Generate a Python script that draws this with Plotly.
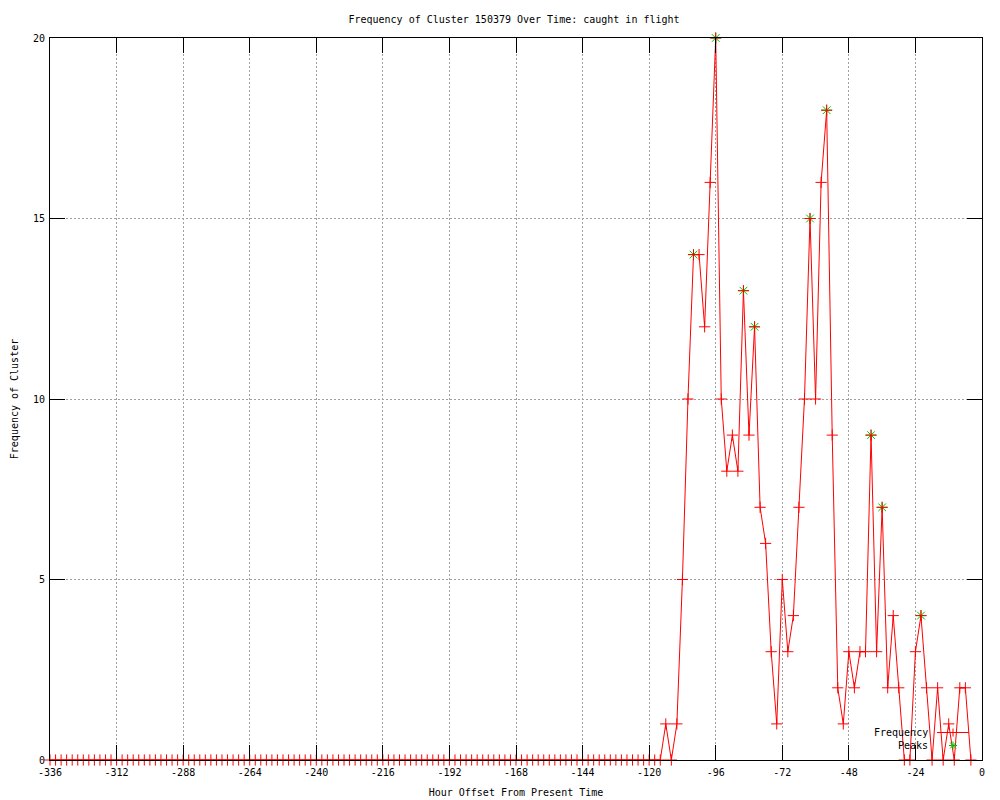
import plotly.graph_objects as go

# ---- data ----
HOURS = list(range(-336, -2, 2))  # sampled every 2 hours, -336 .. -4
FREQUENCY = [
    0, 0, 0, 0, 0, 0, 0, 0, 0, 0, 0, 0, 0, 0, 0, 0, 0, 0, 0, 0,
    0, 0, 0, 0, 0, 0, 0, 0, 0, 0, 0, 0, 0, 0, 0, 0, 0, 0, 0, 0,
    0, 0, 0, 0, 0, 0, 0, 0, 0, 0, 0, 0, 0, 0, 0, 0, 0, 0, 0, 0,
    0, 0, 0, 0, 0, 0, 0, 0, 0, 0, 0, 0, 0, 0, 0, 0, 0, 0, 0, 0,
    0, 0, 0, 0, 0, 0, 0, 0, 0, 0, 0, 0, 0, 0, 0, 0, 0, 0, 0, 0,
    0, 0, 0, 0, 0, 0, 0, 0, 0, 0, 0,
    1, 0, 1, 5, 10, 14, 14, 12, 16, 20,
    10, 8, 9, 8, 13, 9, 12, 7, 6, 3,
    1, 5, 3, 4, 7, 10, 15, 10, 16, 18,
    9, 2, 1, 3, 2, 3, 3, 9, 3, 7,
    2, 4, 2, 0, 0, 3, 4, 2, 0, 2,
    0, 1, 0, 2, 2, 0,
]
PEAK_HOURS = [-104, -96, -86, -82, -62, -56, -40, -36, -22]
PEAK_VALUES = [14, 20, 13, 12, 15, 18, 9, 7, 4]

X_TICKS = [-336, -312, -288, -264, -240, -216, -192, -168, -144, -120, -96, -72, -48, -24, 0]
X_LABELS = ["-336", "-312", "-288", "-264", "-240", "-216", "-192", "-168", "-144",
            "-120", "-96", "-72", "-48", "-24", "0"]
Y_TICKS = [0, 5, 10, 15, 20]
Y_LABELS = ["0", "5", "10", "15", "20"]

TITLE = "Frequency of Cluster 150379 Over Time: caught in flight"
X_TITLE = "Hour Offset From Present Time"
Y_TITLE = "Frequency of Cluster"

RED = "#ff0000"
GREEN = "#00c000"
FONT = "DejaVu Sans Mono"

fig = go.Figure()

fig.add_trace(go.Scatter(
    x=PEAK_HOURS, y=PEAK_VALUES, mode="markers", name="Peaks",
    marker=dict(symbol="asterisk-open", size=9, color=GREEN,
                line=dict(color=GREEN, width=1)),
    cliponaxis=False, hoverinfo="x+y",
))
fig.add_trace(go.Scatter(
    x=HOURS, y=FREQUENCY, mode="lines+markers", name="Frequency",
    line=dict(color=RED, width=1),
    marker=dict(symbol="cross-thin-open", size=8, color=RED,
                line=dict(color=RED, width=1)),
    cliponaxis=False, hoverinfo="x+y",
))

axis_common = dict(
    ticks="inside", ticklen=15, tickwidth=1, tickcolor="black",
    showline=True, linecolor="black", linewidth=1, mirror="ticks",
    showgrid=True, gridcolor="#a0a0a0", gridwidth=1, griddash="2px,2px",
    zeroline=False, automargin=False,
    tickfont=dict(family=FONT, size=10, color="black"),
)

fig.update_xaxes(range=[-336, 0], tickmode="array", tickvals=X_TICKS, ticktext=X_LABELS,
                 ticklabelstandoff=3,
                 title=dict(text=X_TITLE, standoff=11, font=dict(family=FONT, size=10, color="black")),
                 **axis_common)
fig.update_yaxes(range=[0, 20], tickmode="array", tickvals=Y_TICKS, ticktext=Y_LABELS,
                 ticklabelstandoff=2,
                 title=dict(text=Y_TITLE, standoff=12, font=dict(family=FONT, size=10, color="black")),
                 **axis_common)

# The page body has an 8px margin, so the figure is 8px smaller and all targets shift by 8.
OFF = 8
W, H = 1000 - OFF, 800 - OFF
L, R, T, B = 50 - OFF, 18, 38 - OFF, 40
pw, ph = W - L - R, H - T - B


def px(xp):
    # xp: target page pixel
    return (xp - OFF - L) / pw


def py(yp):
    return (H - B - (yp - OFF)) / ph


key_text_x = px(930)
line_x0, line_x1, mark_x = px(937), px(969), px(953)
row1, row2 = 732.5, 745.5
shapes = [
    dict(type="line", xref="paper", yref="paper", x0=line_x0, x1=line_x1, y0=py(row1), y1=py(row1),
         line=dict(color=RED, width=1)),
    dict(type="line", xref="paper", yref="paper", x0=mark_x, x1=mark_x, y0=py(row1 - 4), y1=py(row1 + 4),
         line=dict(color=RED, width=1)),
]
# green asterisk for the Peaks key
for dx, dy in [(4, 0), (0, 4), (3, 3), (3, -3)]:
    shapes.append(dict(type="line", xref="paper", yref="paper",
                       x0=px(953 - dx), x1=px(953 + dx), y0=py(row2 - dy), y1=py(row2 + dy),
                       line=dict(color=GREEN, width=1)))

annotations = [
    dict(text="Frequency", xref="paper", yref="paper", x=key_text_x, y=py(row1),
         xanchor="right", yanchor="middle", showarrow=False,
         font=dict(family=FONT, size=10, color="black")),
    dict(text="Peaks", xref="paper", yref="paper", x=key_text_x, y=py(row2),
         xanchor="right", yanchor="middle", showarrow=False,
         font=dict(family=FONT, size=10, color="black")),
]

fig.update_layout(
    width=W, height=H,
    margin=dict(l=L, r=R, t=T, b=B, pad=0),
    paper_bgcolor="white", plot_bgcolor="white",
    font=dict(family=FONT, size=10, color="black"),
    title=dict(text=TITLE, x=(514 - OFF) / W, xanchor="center", y=1 - (19 - OFF) / H, yanchor="middle",
               font=dict(family=FONT, size=10, color="black")),
    showlegend=False,
    shapes=shapes,
    annotations=annotations,
)

fig.write_html("out.html")
